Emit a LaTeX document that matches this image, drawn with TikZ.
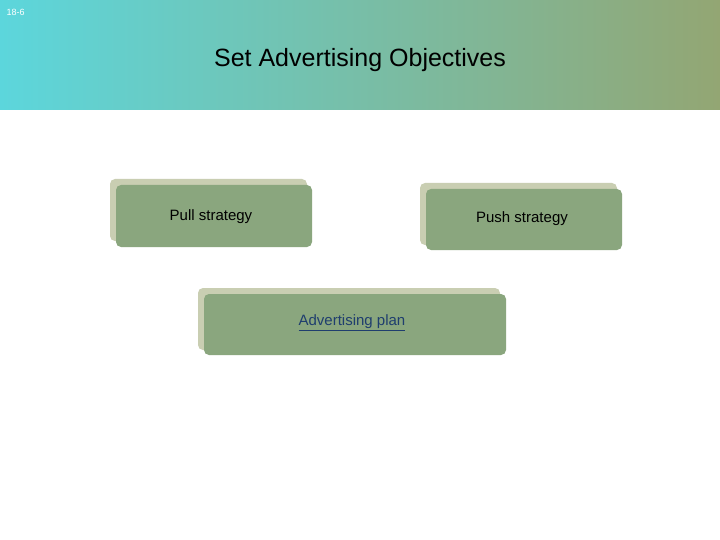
\documentclass[tikz,border=0pt]{standalone}
\usepackage{fontspec}
\setmainfont{Liberation Sans}
\definecolor{hdrL}{HTML}{5CD6DC}
\definecolor{hdrR}{HTML}{93A673}
\definecolor{boxF}{HTML}{8AA67E}
\definecolor{boxB}{HTML}{C9CEB2}
\definecolor{linkc}{HTML}{1F3E6E}
\begin{document}
\begin{tikzpicture}[x=1pt,y=-1pt,
  back/.style={fill=boxB,rounded corners=5pt},
  front/.style={fill=boxF,rounded corners=5pt},
  lbl/.style={font=\fontsize{15}{18}\selectfont,text=black}]
\useasboundingbox (0,0) rectangle (720,540);
\fill[white] (0,0) rectangle (720,540);
\shade[left color=hdrL,right color=hdrR] (0,0) rectangle (720,110);
\node[anchor=west,font=\fontsize{9}{10}\selectfont,text=white] (num) at (3,12) {18-6};
\node[font=\fontsize{25}{30}\selectfont] (title) at (360,60) {Set Advertising Objectives};
\fill[back] (110,179) rectangle (307,241);
\fill[front] (116,185) rectangle (312,247);
\node[lbl] (pull) at (211,217) {Pull strategy};
\fill[back] (420,183) rectangle (617,245);
\fill[front] (426,189) rectangle (622,250);
\node[lbl] (push) at (522,219) {Push strategy};
\fill[back] (198,288) rectangle (500,350);
\fill[front] (204,294) rectangle (506,355);
\node[lbl,text=linkc] (plan) at (352,323) {\underline{Advertising plan}};
\end{tikzpicture}
\end{document}
